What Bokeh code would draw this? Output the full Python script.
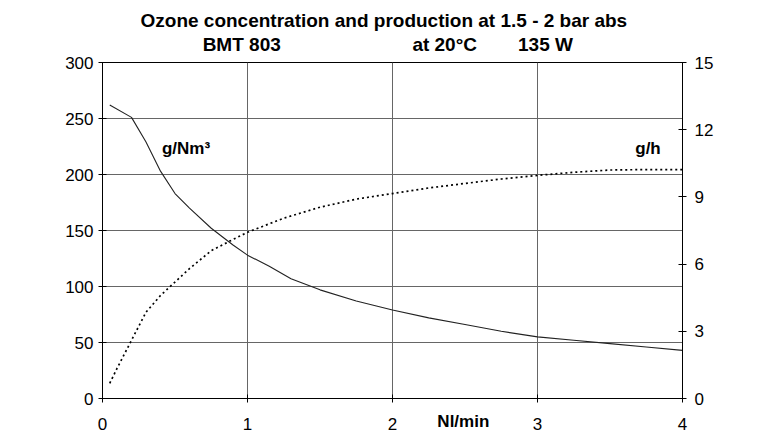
from bokeh.plotting import figure
from bokeh.models import Range1d, LinearAxis, Label, FixedTicker
from bokeh.embed import file_html
from bokeh.resources import INLINE

# Data
flow_conc = [0.05, 0.2, 0.3, 0.4, 0.5, 0.6, 0.75, 0.9, 1.0, 1.15, 1.3, 1.5, 1.75,
             2.0, 2.25, 2.5, 2.75, 3.0, 3.25, 3.5, 3.75, 4.0]
conc_gNm3 = [262, 251, 229, 203, 183, 170, 152, 137, 128, 118, 107, 97, 87,
             79, 72, 66, 60, 55, 52, 49, 46, 43]

flow_prod = [0.05, 0.1, 0.2, 0.3, 0.4, 0.5, 0.6, 0.75, 0.9, 1.0, 1.25, 1.5, 1.75,
             2.0, 2.25, 2.5, 2.75, 3.0, 3.25, 3.5, 3.75, 4.0]
prod_gh = [0.68, 1.34, 2.6, 3.85, 4.6, 5.2, 5.8, 6.6, 7.1, 7.42, 8.05, 8.54, 8.9,
           9.15, 9.4, 9.6, 9.8, 9.96, 10.1, 10.2, 10.22, 10.22]

x_ticks = [0, 1, 2, 3, 4]
left_ticks = [0, 50, 100, 150, 200, 250, 300]
right_ticks = [0, 3, 6, 9, 12, 15]

title_1 = "Ozone concentration and production at 1.5 - 2 bar abs"
subtitle_parts = ["BMT 803", "at 20°C", "135 W"]
subtitle_at = [0.96, 2.36, 3.055]   # x positions (Nl/min scale) of subtitle parts
x_label = "Nl/min"
NB = "\u00a0"

FONT = "Liberation Sans"

p = figure(width=760, height=436, output_backend="svg", toolbar_location=None,
           x_range=Range1d(0, 4), y_range=Range1d(0, 300),
           min_border_left=102, min_border_right=78, min_border_top=62,
           min_border_bottom=38)
p.extra_y_ranges = {"right": Range1d(0, 15)}

p.background_fill_color = "white"
p.border_fill_color = "white"
p.outline_line_color = "black"
p.outline_line_width = 1

xaxis = p.below[0]
yaxis = p.left[0]

# main title
p.title.text = title_1
p.title.align = "left"
p.title.offset = 38
p.title.text_font = FONT
p.title.text_font_size = "19px"
p.title.text_font_style = "bold"
p.title.text_color = "black"
p.title.standoff = 0

# subtitle row drawn as an invisible top axis
sub_axis = LinearAxis(ticker=FixedTicker(ticks=subtitle_at, minor_ticks=[]),
                      major_label_overrides=dict(zip(subtitle_at, subtitle_parts)))
sub_axis.axis_line_color = None
sub_axis.major_tick_line_color = None
sub_axis.minor_tick_line_color = None
sub_axis.major_tick_in = 0
sub_axis.major_tick_out = 0
sub_axis.major_label_standoff = 8
sub_axis.major_label_text_font = FONT
sub_axis.major_label_text_font_size = "19px"
sub_axis.major_label_text_font_style = "bold"
sub_axis.major_label_text_color = "black"
p.add_layout(sub_axis, "above")

for ax in [xaxis, yaxis]:
    ax.axis_line_color = "black"
    ax.major_tick_line_color = "black"
    ax.minor_tick_line_color = None
    ax.major_tick_in = 4
    ax.major_tick_out = 4
    ax.major_label_text_font = FONT
    ax.major_label_text_font_size = "17px"
    ax.major_label_text_color = "black"

xaxis.ticker = FixedTicker(ticks=x_ticks)
yaxis.ticker = FixedTicker(ticks=left_ticks)
xaxis.major_label_standoff = 15
yaxis.major_label_standoff = 5

# x-axis label placed on the same row as the tick labels
xaxis.axis_label = NB * 30 + x_label
xaxis.axis_label_text_font = FONT
xaxis.axis_label_text_font_size = "17px"
xaxis.axis_label_text_font_style = "bold"
xaxis.axis_label_text_color = "black"
xaxis.axis_label_standoff = -21

raxis = LinearAxis(y_range_name="right", ticker=FixedTicker(ticks=right_ticks))
raxis.axis_line_color = "black"
raxis.major_tick_line_color = "black"
raxis.minor_tick_line_color = None
raxis.major_tick_in = 4
raxis.major_tick_out = 4
raxis.major_label_text_font = FONT
raxis.major_label_text_font_size = "17px"
raxis.major_label_text_color = "black"
raxis.major_label_standoff = 8
p.add_layout(raxis, "right")

p.xgrid.ticker = FixedTicker(ticks=x_ticks)
p.ygrid.ticker = FixedTicker(ticks=left_ticks)
p.xgrid.grid_line_color = "#666666"
p.ygrid.grid_line_color = "#666666"
p.xgrid.grid_line_width = 1
p.ygrid.grid_line_width = 1

p.line(flow_conc, conc_gNm3, line_color="#222222", line_width=1.1)
p.line(flow_prod, prod_gh, y_range_name="right", line_color="black",
       line_width=1.7, line_dash="2 3")

def lab(x, y, t, align):
    p.add_layout(Label(x=x, y=y, text=t, text_font=FONT, text_font_size="17px",
                       text_font_style="bold", text_align=align,
                       text_baseline="middle", text_color="black"))

lab(0.41, 223, "g/Nm³", "left")
lab(3.85, 223, "g/h", "right")

open("out.html", "w").write(file_html(p, INLINE))
